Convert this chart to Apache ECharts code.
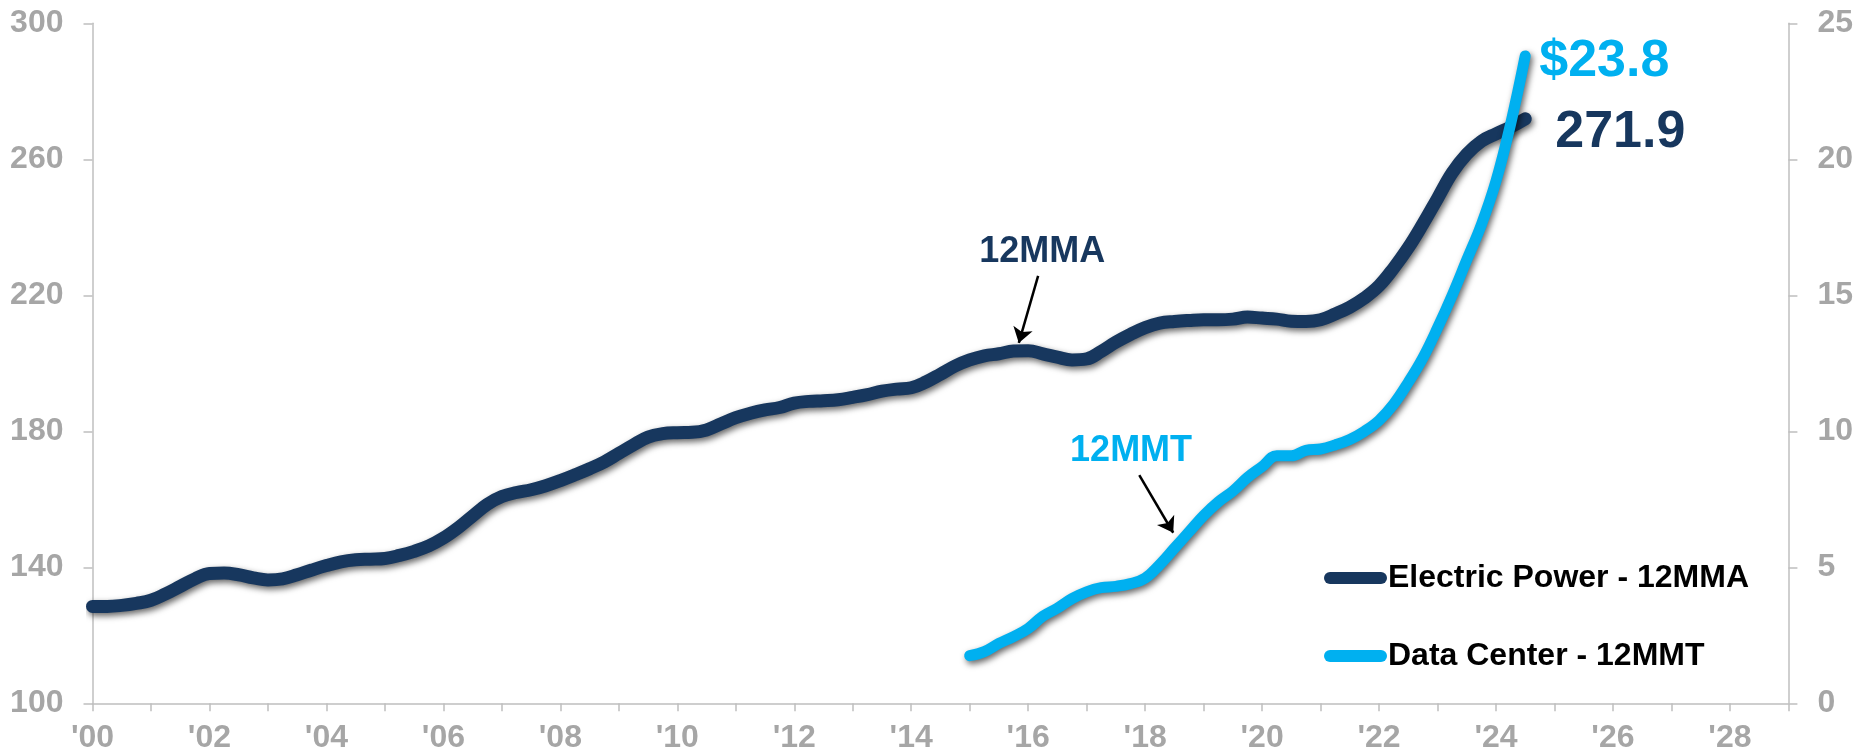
<!DOCTYPE html>
<html>
<head>
<meta charset="utf-8">
<script src="https://cdn.jsdelivr.net/npm/echarts@6/dist/echarts.min.js"></script>
<style>
  html, body { margin: 0; padding: 0; background: #ffffff; }
  #chart { width: 1856px; height: 756px; }
</style>
</head>
<body>
<div id="chart"></div>
<script>
// Electric power (12-month moving average), quarterly samples, left axis
const powerMonths = [
  '2000-01','2000-04','2000-07','2000-10','2001-01','2001-04','2001-07','2001-10',
  '2002-01','2002-04','2002-07','2002-10','2003-01','2003-04','2003-07','2003-10',
  '2004-01','2004-04','2004-07','2004-10','2005-01','2005-04','2005-07','2005-10',
  '2006-01','2006-04','2006-07','2006-10','2007-01','2007-04','2007-07','2007-10',
  '2008-01','2008-04','2008-07','2008-10','2009-01','2009-04','2009-07','2009-10',
  '2010-01','2010-04','2010-07','2010-10','2011-01','2011-04','2011-07','2011-10',
  '2012-01','2012-04','2012-07','2012-10','2013-01','2013-04','2013-07','2013-10',
  '2014-01','2014-04','2014-07','2014-10','2015-01','2015-04','2015-07','2015-10',
  '2016-01','2016-04','2016-07','2016-10','2017-01','2017-04','2017-07','2017-10',
  '2018-01','2018-04','2018-07','2018-10','2019-01','2019-04','2019-07','2019-10',
  '2020-01','2020-04','2020-07','2020-10','2021-01','2021-04','2021-07','2021-10',
  '2022-01','2022-04','2022-07','2022-10','2023-01','2023-04','2023-07','2023-10',
  '2024-01','2024-04','2024-07'
];
const powerValues = [
  128.5, 128.5, 128.8, 129.4, 130.3, 132.2, 134.4, 136.6,
  138.2, 138.3, 137.8, 136.9, 136.3, 136.6, 137.8, 139.2,
  140.5, 141.6, 142.2, 142.4, 142.6, 143.5, 144.7, 146.3,
  148.6, 151.6, 155.1, 158.5, 160.8, 162.0, 162.8, 164.0,
  165.5, 167.2, 169.0, 171.0, 173.5, 176.0, 178.3, 179.3,
  179.6, 179.7, 180.4, 182.2, 184.0, 185.3, 186.3, 187.0,
  188.3, 188.8, 189.0, 189.3, 190.0, 190.8, 191.8, 192.4,
  192.8, 194.5, 196.8, 199.2, 201.0, 202.2, 202.8, 203.6,
  203.7, 202.8, 201.8, 201.0, 201.3, 203.5, 206.2, 208.5,
  210.5, 211.8, 212.3, 212.6, 212.8, 212.8, 213.0, 213.6,
  213.3, 213.0, 212.4, 212.3, 212.8, 214.5, 216.5, 219.2,
  222.8, 228.0, 234.0, 241.0, 248.5, 256.0, 261.5, 265.3,
  267.5, 269.5, 271.9
];

// Data center construction spending (12-month moving total, $bn), right axis
const dataCenterMonths = [
  '2015-01','2015-04','2015-07','2015-10','2016-01','2016-04','2016-07','2016-10',
  '2017-01','2017-04','2017-07','2017-10','2018-01','2018-04','2018-07','2018-10',
  '2019-01','2019-04','2019-07','2019-10','2020-01','2020-04','2020-07','2020-10',
  '2021-01','2021-04','2021-07','2021-10','2022-01','2022-04','2022-07','2022-10',
  '2023-01','2023-04','2023-07','2023-10','2024-01','2024-04','2024-07'
];
const dataCenterValues = [
  1.75, 1.9, 2.2, 2.45, 2.75, 3.2, 3.5, 3.85,
  4.1, 4.25, 4.3, 4.4, 4.6, 5.1, 5.7, 6.3,
  6.9, 7.4, 7.8, 8.3, 8.7, 9.1, 9.1, 9.3,
  9.35, 9.5, 9.7, 10.0, 10.4, 11.0, 11.8, 12.7,
  13.8, 15.0, 16.3, 17.6, 19.2, 21.3, 23.8
];

const seriesNames = ['Electric Power - 12MMA', 'Data Center - 12MMT'];
const leftTicks = [100, 140, 180, 220, 260, 300];

// callout text and arrows, in data units: [x, y]
const powerNote = { text: '12MMA', at: [2016.24, 232.8], from: [2016.17, 225.7], to: [2015.84, 206.0] };
const dataCenterNote = { text: '12MMT', at: [2017.76, 9.27], from: [2017.9, 8.39], to: [2018.48, 6.27] };

const NAVY = '#17375e';
const CYAN = '#00b0f0';
const GREY_TEXT = '#a6a6a6';
const GREY_LINE = '#bfbfbf';
const FONT = '"Liberation Sans", Arial, Helvetica, sans-serif';

function toYear(m) {
  const [y, mo] = m.split('-').map(Number);
  return y + (mo - 1) / 12;
}
function pairs(months, values) {
  return months.map((m, i) => [toYear(m), values[i]]);
}

const lineShadow = {
  shadowColor: 'rgba(0,0,0,0.6)',
  shadowBlur: 6,
  shadowOffsetX: 2,
  shadowOffsetY: 3
};

function note(n, color) {
  return {
    markPoint: {
      silent: true,
      symbol: 'circle',
      symbolSize: 0,
      itemStyle: { color: 'transparent', shadowBlur: 0, shadowColor: 'transparent' },
      label: {
        show: true, position: 'inside', formatter: n.text,
        color: color, fontFamily: FONT, fontWeight: 'bold', fontSize: 36
      },
      data: [{ coord: n.at }]
    },
    markLine: {
      silent: true,
      symbol: ['none', 'arrow'],
      symbolSize: 15,
      label: { show: false },
      lineStyle: {
        color: '#000', width: 2.5, type: 'solid',
        shadowBlur: 0, shadowColor: 'transparent', shadowOffsetX: 0, shadowOffsetY: 0
      },
      emphasis: { disabled: true },
      data: [[{ coord: n.from }, { coord: n.to }]]
    }
  };
}

const chart = echarts.init(document.getElementById('chart'), null, { renderer: 'canvas' });

chart.setOption({
  animation: false,
  backgroundColor: '#ffffff',
  textStyle: { fontFamily: FONT },
  grid: { left: 92.5, right: 67.3, top: 23.3, bottom: 52.7, containLabel: false },
  legend: {
    data: seriesNames,
    orient: 'vertical',
    left: 1319,
    top: 557,
    itemWidth: 63,
    itemHeight: 12,
    itemGap: 46,
    icon: 'path://M6,0 L57,0 A6,6 0 0 1 57,12 L6,12 A6,6 0 0 1 6,0 Z',
    itemStyle: { shadowBlur: 0, shadowColor: 'transparent', borderWidth: 0 },
    textStyle: { color: '#000', fontFamily: FONT, fontWeight: 'bold', fontSize: 32, lineHeight: 32, padding: [0, 0, 0, -4] },
    selectedMode: false
  },
  xAxis: {
    type: 'value',
    min: 2000,
    max: 2029,
    interval: 1,
    axisLine: { lineStyle: { color: GREY_LINE, width: 1.5 } },
    axisTick: { show: true, length: 8, lineStyle: { color: GREY_LINE, width: 1.5 } },
    axisLabel: {
      margin: 19,
      color: GREY_TEXT, fontFamily: FONT, fontWeight: 'bold', fontSize: 32,
      formatter: v => (v % 2 === 0 ? "'" + String(v).slice(2) : '')
    },
    splitLine: { show: false }
  },
  yAxis: [
    {
      type: 'value',
      min: 100,
      max: 300,
      position: 'left',
      axisLine: { show: true, lineStyle: { color: GREY_LINE, width: 1.5 } },
      axisTick: { show: true, length: 9, customValues: leftTicks, lineStyle: { color: GREY_LINE, width: 1.5 } },
      axisLabel: {
        margin: 29, customValues: leftTicks,
        color: GREY_TEXT, fontFamily: FONT, fontWeight: 'bold', fontSize: 32
      },
      splitLine: { show: false }
    },
    {
      type: 'value',
      min: 0,
      max: 25,
      interval: 5,
      position: 'right',
      axisLine: { show: true, lineStyle: { color: GREY_LINE, width: 1.5 } },
      axisTick: { show: true, length: 9, lineStyle: { color: GREY_LINE, width: 1.5 } },
      axisLabel: {
        margin: 29,
        color: GREY_TEXT, fontFamily: FONT, fontWeight: 'bold', fontSize: 32
      },
      splitLine: { show: false }
    }
  ],
  series: [
    Object.assign({
      name: seriesNames[0],
      type: 'line',
      yAxisIndex: 0,
      data: pairs(powerMonths, powerValues),
      smooth: 0.4,
      showSymbol: false,
      symbol: 'none',
      color: NAVY,
      lineStyle: Object.assign({ color: NAVY, width: 13, cap: 'round', join: 'round' }, lineShadow),
      emphasis: { disabled: true },
      endLabel: {
        show: true,
        formatter: p => p.value[1].toFixed(1),
        color: NAVY, fontFamily: FONT, fontWeight: 'bold', fontSize: 52,
        distance: 30,
        offset: [0, 14]
      },
      z: 3
    }, note(powerNote, NAVY)),
    Object.assign({
      name: seriesNames[1],
      type: 'line',
      yAxisIndex: 1,
      data: pairs(dataCenterMonths, dataCenterValues),
      smooth: 0.4,
      showSymbol: false,
      symbol: 'none',
      color: CYAN,
      lineStyle: Object.assign({ color: CYAN, width: 11, cap: 'round', join: 'round' }, lineShadow),
      emphasis: { disabled: true },
      endLabel: {
        show: true,
        formatter: p => '$' + p.value[1].toFixed(1),
        color: CYAN, fontFamily: FONT, fontWeight: 'bold', fontSize: 52,
        distance: 14,
        offset: [0, 6]
      },
      z: 4
    }, note(dataCenterNote, CYAN))
  ]
});
</script>
</body>
</html>
